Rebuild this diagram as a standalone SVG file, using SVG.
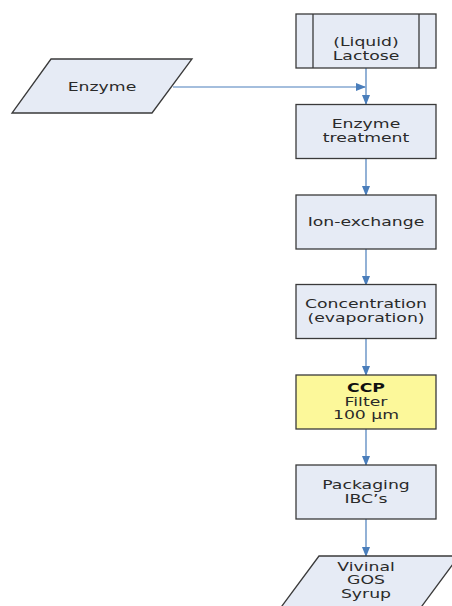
<svg xmlns="http://www.w3.org/2000/svg" width="452" height="606" viewBox="0 0 452 606">
<style>
.box{fill:#E6EBF5;stroke:#3a3a3a;stroke-width:1.3}
.ccp{fill:#FCF89A;stroke:#3a3a3a;stroke-width:1.3}
.t{font-family:"DejaVu Sans",Verdana,sans-serif;font-size:12px;fill:#2a2a2a;text-anchor:middle}
.b{font-weight:bold;fill:#111}
.c{stroke:#4A7EBB;stroke-width:1.2;fill:none}
</style>
<defs>
<marker id="ah" markerWidth="10" markerHeight="8" refX="9" refY="4" orient="auto" markerUnits="userSpaceOnUse">
<path d="M0,0 L10,4 L0,8 Z" fill="#4A7EBB"/>
</marker>
</defs>
<rect width="452" height="606" fill="#ffffff"/>
<g id="connectors">
<line class="c" x1="173" y1="87" x2="365" y2="87" marker-end="url(#ah)"/>
<line class="c" x1="366" y1="68" x2="366" y2="104" marker-end="url(#ah)"/>
<line class="c" x1="366" y1="158" x2="366" y2="195" marker-end="url(#ah)"/>
<line class="c" x1="366" y1="249" x2="366" y2="285" marker-end="url(#ah)"/>
<line class="c" x1="366" y1="339" x2="366" y2="375" marker-end="url(#ah)"/>
<line class="c" x1="366" y1="429" x2="366" y2="465" marker-end="url(#ah)"/>
<line class="c" x1="366" y1="519" x2="366" y2="556" marker-end="url(#ah)"/>
</g>
<g id="lactose">
<rect class="box" x="296" y="14" width="140" height="54"/>
<line x1="313" y1="14" x2="313" y2="68" stroke="#3a3a3a" stroke-width="1.3"/>
<line x1="419" y1="14" x2="419" y2="68" stroke="#3a3a3a" stroke-width="1.3"/>
<text class="t" transform="translate(366,46) scale(1.44,1)">(Liquid)</text>
<text class="t" transform="translate(366,59.5) scale(1.44,1)">Lactose</text>
</g>
<g id="enzyme">
<polygon class="box" points="51,59 192,59 152,113 12,113"/>
<text class="t" transform="translate(102,91) scale(1.44,1)">Enzyme</text>
</g>
<g id="enzyme-treatment">
<rect class="box" x="296" y="104.5" width="140" height="54"/>
<text class="t" transform="translate(366,128.3) scale(1.44,1)">Enzyme</text>
<text class="t" transform="translate(366,141.8) scale(1.44,1)">treatment</text>
</g>
<g id="ion-exchange">
<rect class="box" x="296" y="195" width="140" height="54"/>
<text class="t" transform="translate(366,226) scale(1.44,1)">Ion-exchange</text>
</g>
<g id="concentration">
<rect class="box" x="296" y="284.5" width="140" height="54"/>
<text class="t" transform="translate(366,308) scale(1.44,1)">Concentration</text>
<text class="t" transform="translate(366,321.5) scale(1.44,1)">(evaporation)</text>
</g>
<g id="ccp">
<rect class="ccp" x="296" y="375" width="140" height="54"/>
<text class="t b" transform="translate(366,392) scale(1.44,1)">CCP</text>
<text class="t" transform="translate(366,405.5) scale(1.44,1)">Filter</text>
<text class="t" transform="translate(366,419) scale(1.44,1)">100 µm</text>
</g>
<g id="packaging">
<rect class="box" x="296" y="465" width="140" height="54"/>
<text class="t" transform="translate(366,489.3) scale(1.44,1)">Packaging</text>
<text class="t" transform="translate(366,502.8) scale(1.44,1)">IBC’s</text>
</g>
<g id="vivinal">
<polygon class="box" points="319,556 459,556 419,610 279,610"/>
<text class="t" transform="translate(366,570.7) scale(1.44,1)">Vivinal</text>
<text class="t" transform="translate(366,584.3) scale(1.44,1)">GOS</text>
<text class="t" transform="translate(366,597.8) scale(1.44,1)">Syrup</text>
</g>
</svg>
